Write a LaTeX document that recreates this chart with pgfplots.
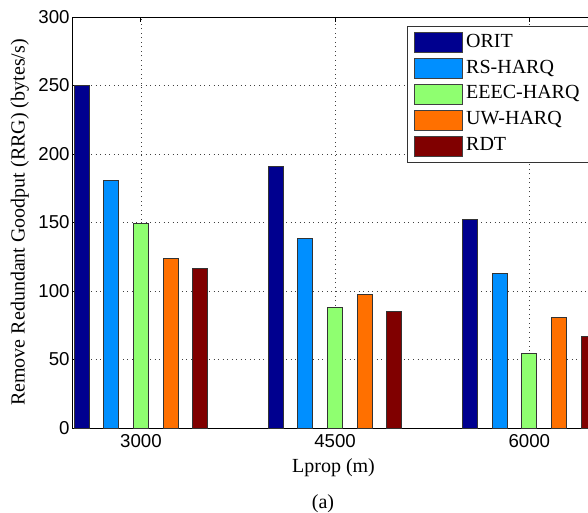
\documentclass[border=0pt]{standalone}
\usepackage{pgfplots}
\pgfplotsset{compat=1.18}
\usepackage{fontspec}
\setmainfont{Liberation Serif}
\newfontfamily\ticksans{Liberation Sans}
\definecolor{cORIT}{rgb}{0,0,0.5625}
\definecolor{cRS}{rgb}{0,0.5625,1}
\definecolor{cEEEC}{rgb}{0.5625,1,0.4375}
\definecolor{cUW}{rgb}{1,0.4375,0}
\definecolor{cRDT}{rgb}{0.5,0,0}
\begin{document}
\begin{tikzpicture}
\begin{axis}[
  name=ax,
  at={(0,0)}, anchor=south west,
  scale only axis, width=390.75pt, height=308.25pt,
  xmin=2475, xmax=6500, ymin=0, ymax=300,
  xtick={3000,4500,6000}, ytick={0,50,...,300},
  ybar, bar width=116,
  grid=major,
  grid style={black!75, line width=0.6pt, dash pattern=on 0.6pt off 2.8pt},
  axis line style={line width=0.75pt},
  tick style={black, line width=0.75pt},
  major tick length=4pt,
  tick align=inside,
  ticklabel style={font=\ticksans\fontsize{14}{14}\selectfont},
  xticklabel style={yshift=-1.5pt},
  yticklabel style={xshift=1pt},
  /pgf/number format/assume math mode=true,
  /pgf/number format/1000 sep={},
  xlabel={Lprop (m)},
  ylabel={Remove Redundant Goodput (RRG) (bytes/s)},
  label style={font=\fontsize{15}{15}\selectfont},
  xlabel style={at={(axis description cs:0.5,-0.0973)}, anchor=center},
  ylabel style={at={(axis description cs:-0.1018,0.5)}, anchor=center},
  legend style={at={(0.641,0.978)}, anchor=north west, draw=black!80,
    line width=0.75pt, inner sep=2.3pt, row sep=0pt, column sep=0pt,
    font=\fontsize{15}{15}\selectfont,
    nodes={inner sep=2.2pt, text height=11pt, text depth=4pt}},
  legend cell align=left,
  legend image code/.code={\path (0pt,0pt); \draw[#1, draw=black!75, line width=0.75pt] (2.8pt,-7.5pt) rectangle (38.8pt,7.5pt);},
  every axis plot/.append style={draw=black!80, line width=0.75pt},
]
\addplot[fill=cORIT, bar shift=-458] coordinates {(3000,250) (4500,191) (6000,152.5)};
\addplot[fill=cRS, bar shift=-229] coordinates {(3000,180.5) (4500,138) (6000,112.8)};
\addplot[fill=cEEEC, bar shift=0] coordinates {(3000,149) (4500,87.6) (6000,54.2)};
\addplot[fill=cUW, bar shift=229] coordinates {(3000,123.6) (4500,97.3) (6000,80.5)};
\addplot[fill=cRDT, bar shift=458] coordinates {(3000,116.3) (4500,84.9) (6000,66.6)};
\legend{ORIT,RS-HARQ,EEEC-HARQ\rule{16pt}{0pt},UW-HARQ,RDT}
\end{axis}
\node[font=\fontsize{15}{15}\selectfont] at ([xshift=-7.9pt, yshift=-56.5pt]ax.south) {(a)};
\pgfresetboundingbox
\path[use as bounding box] (-54.75pt,-63pt) rectangle (386.25pt,321pt);
\end{tikzpicture}
\end{document}
